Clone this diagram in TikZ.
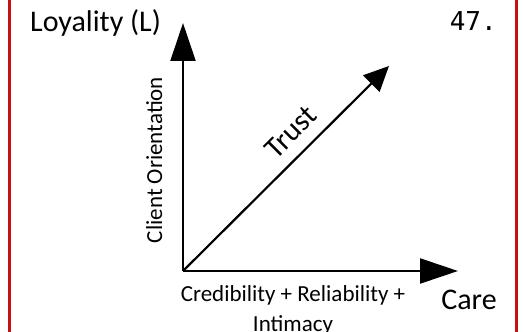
\documentclass[tikz,border=0pt]{standalone}
\usepackage{fontspec}
\setmainfont{Carlito}
\newfontfamily\numfont{DejaVu Sans Mono}
\usepackage{xcolor}
\usepackage{tikz}
\usetikzlibrary{arrows.meta,positioning}

\definecolor{framered}{RGB}{200,16,16}

\begin{document}
\begin{tikzpicture}[
        x=1pt, y=1pt,
        axis/.style={line width=2.2pt, -{Triangle[length=38pt,width=25pt]}},
        trend/.style={line width=2.2pt, -{Triangle[length=25pt,width=23pt]}},
        big/.style={font=\fontsize{30}{36}\selectfont, inner sep=0pt},
        small/.style={font=\fontsize{23}{30}\selectfont, inner sep=0pt},
        frame/.style={draw=framered, line width=3pt}
    ]
    \useasboundingbox (0,0) rectangle (523,332);

    % side rules
    \draw[frame] (9,0) -- (9,332);
    \draw[frame] (516.5,0) -- (516.5,332);

    % axes and trend line
    \coordinate (O) at (183,61);
    \coordinate (Ltip) at (183,309);
    \coordinate (Ctip) at (458,61);
    \coordinate (Ttip) at (389,266);

    \draw[axis] (O) -- (Ltip);
    \draw[axis] (O) -- (Ctip);
    \draw[trend] (O) -- node[big, sloped, above=11.5pt, pos=0.6] (trust) {Trust} (Ttip);

    % labels
    \node[big, anchor=base west] (loyal) at (30,300) {Loyality (L)};
    \node[font=\numfont\fontsize{26}{30}\selectfont, inner sep=0pt, anchor=base east] (num) at (497,301) {47.};
    \node[small, rotate=90, anchor=base] (client) at (162,172) {Client Orientation};
    \node[small, align=center, anchor=north] (cred) at (293,46.4) {Credibility + Reliability +\\Intimacy};
    \node[big, anchor=base] (care) at (469,22) {Care};

\end{tikzpicture}
\end{document}
